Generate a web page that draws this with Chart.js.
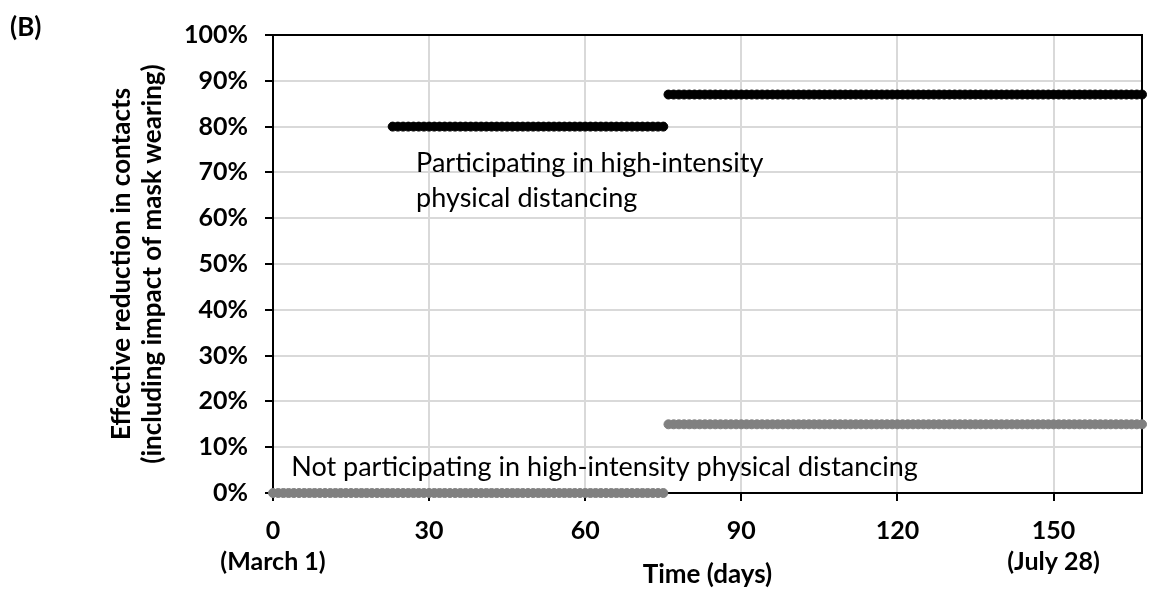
<!DOCTYPE html>
<html>
<head>
<meta charset="utf-8">
<script src="https://cdn.jsdelivr.net/npm/chart.js@4.4.1/dist/chart.umd.min.js"></script>
<style>
  html, body { margin: 0; padding: 0; background: #fff; }
</style>
</head>
<body>
<canvas id="myChart" width="1149" height="591"></canvas>
<script>
// step levels, one marker per day (ranges inclusive)
const highStart = [23, 76];
const highEnd = [75, 167];
const highLevel = [80, 87];

const lowStart = [0, 76];
const lowEnd = [75, 167];
const lowLevel = [0, 15];

const xDates = { 0: '(March 1)', 150: '(July 28)' };

const notes = [
    { lines: ['Participating in high-intensity', 'physical distancing'], x: 27.5, y: 72 },
    { lines: ['Not participating in high-intensity physical distancing'], x: 3.5, y: 5.7 }
];

function dailyPoints(starts, ends, levels) {
    const pts = [];
    for (let s = 0; s < starts.length; s++) {
        for (let d = starts[s]; d <= ends[s]; d++) {
            pts.push({ x: d, y: levels[s] });
        }
    }
    return pts;
}

const frameAndNotes = {
    id: 'frameAndNotes',
    beforeDatasetsDraw(chart) {
        const { ctx, chartArea: a } = chart;
        ctx.save();
        ctx.strokeStyle = '#000';
        ctx.lineWidth = 2;
        ctx.strokeRect(a.left, a.top, a.right - a.left, a.bottom - a.top);
        ctx.restore();
    },
    afterDatasetsDraw(chart) {
        const { ctx, scales } = chart;
        ctx.save();
        ctx.fillStyle = '#000';
        ctx.textAlign = 'left';
        ctx.textBaseline = 'middle';
        ctx.font = 'normal 27px Lato';
        notes.forEach(n => {
            const px = scales.x.getPixelForValue(n.x);
            const py = scales.y.getPixelForValue(n.y);
            n.lines.forEach((line, i) => ctx.fillText(line, px, py + i * 35));
        });
        ctx.font = 'bold 26px Lato';
        ctx.fillText('(B)', 10, 28);
        ctx.restore();
    }
};

Chart.defaults.font.family = 'Lato';
Chart.defaults.color = '#000';

const ctx = document.getElementById('myChart');

new Chart(ctx, {
    type: 'scatter',
    data: {
        datasets: [{
            data: dailyPoints(highStart, highEnd, highLevel),
            backgroundColor: '#000',
            borderColor: '#000',
            pointRadius: 4.5,
            pointBorderWidth: 1,
            clip: false
        }, {
            data: dailyPoints(lowStart, lowEnd, lowLevel),
            backgroundColor: '#808080',
            borderColor: '#808080',
            pointRadius: 4.5,
            pointBorderWidth: 1,
            clip: false
        }]
    },
    plugins: [frameAndNotes],
    options: {
        responsive: false,
        animation: false,
        layout: { padding: { top: 35, right: 7, bottom: 0, left: 0 } },
        plugins: {
            legend: { display: false },
            tooltip: { enabled: false }
        },
        scales: {
            x: {
                type: 'linear',
                min: 0,
                max: 167,
                afterFit: s => { s.height = 98; },
                ticks: {
                    stepSize: 30,
                    includeBounds: false,
                    autoSkip: false,
                    maxRotation: 0,
                    padding: 14,
                    font: { size: 25, weight: 'bold', lineHeight: 1.25 },
                    callback: v => xDates[v] ? [String(v), xDates[v]] : String(v)
                },
                grid: { color: '#d9d9d9', lineWidth: 2, tickColor: '#000', tickLength: 8, tickWidth: 2 },
                border: { color: '#000', width: 2 },
                title: {
                    display: true,
                    text: 'Time (days)',
                    font: { size: 26, weight: 'bold', lineHeight: 1.2 },
                    padding: { top: 0, bottom: 1 }
                }
            },
            y: {
                min: 0,
                max: 100,
                afterFit: s => { s.width = 273; },
                ticks: {
                    stepSize: 10,
                    padding: 17,
                    font: { size: 25, weight: 'bold' },
                    callback: v => v + '%'
                },
                grid: { color: '#d9d9d9', lineWidth: 2, tickColor: '#000', tickLength: 8, tickWidth: 2 },
                border: { color: '#000', width: 2 },
                title: {
                    display: true,
                    text: ['Effective reduction in contacts', '(including impact of mask wearing)'],
                    font: { size: 26, weight: 'bold', lineHeight: 1.2 },
                    padding: { top: 106, bottom: 0 }
                }
            }
        }
    }
});
</script>
</body>
</html>
